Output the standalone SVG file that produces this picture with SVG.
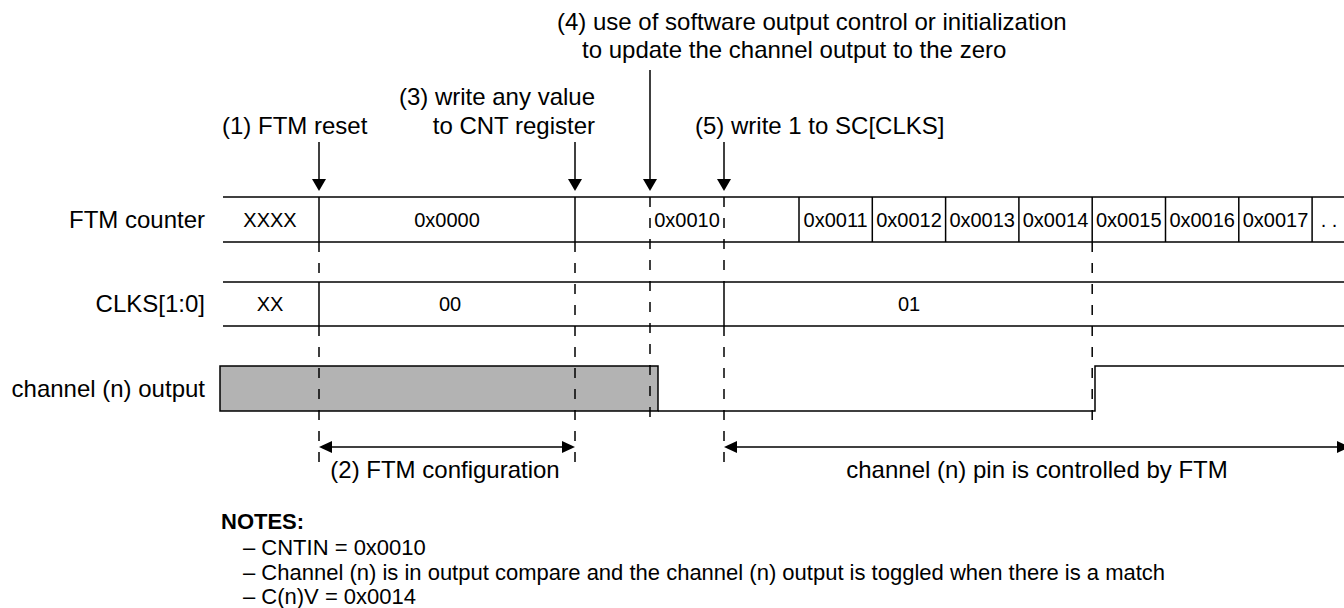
<svg xmlns="http://www.w3.org/2000/svg" width="1344" height="608" viewBox="0 0 1344 608">
<style>
text{font-family:"Liberation Sans",Arial,Helvetica,sans-serif;fill:#000}
.lbl{font-size:24px}
.val{font-size:20px;text-anchor:middle}
.note{font-size:22px}
.ln{stroke:#000;stroke-width:1.5;fill:none}
.dash{stroke:#000;stroke-width:1.5;fill:none;stroke-dasharray:10 11}
.head{fill:#000;stroke:none}
</style>
<rect width="1344" height="608" fill="#fff"/>

<g id="annotations">
<text class="lbl" x="557" y="30">(4) use of software output control or initialization</text>
<text class="lbl" x="582" y="58">to update the channel output to the zero</text>
<text class="lbl" x="595" y="105" text-anchor="end">(3) write any value</text>
<text class="lbl" x="595" y="134" text-anchor="end">to CNT register</text>
<text class="lbl" x="222" y="134">(1) FTM reset</text>
<text class="lbl" x="695" y="134">(5) write 1 to SC[CLKS]</text>
</g>

<g id="row-labels">
<text class="lbl" x="205" y="228" text-anchor="end">FTM counter</text>
<text class="lbl" x="205" y="312" text-anchor="end">CLKS[1:0]</text>
<text class="lbl" x="205" y="397" text-anchor="end">channel (n) output</text>
</g>

<g id="ftm-counter">
<line class="ln" x1="223" y1="197" x2="1344" y2="197"/>
<line class="ln" x1="223" y1="242" x2="1344" y2="242"/>
<line class="ln" x1="319" y1="197" x2="319" y2="242"/>
<line class="ln" x1="575" y1="197" x2="575" y2="242"/>
<line class="ln" x1="799" y1="197" x2="799" y2="242"/>
<line class="ln" x1="872.3" y1="197" x2="872.3" y2="242"/>
<line class="ln" x1="945.6" y1="197" x2="945.6" y2="242"/>
<line class="ln" x1="1018.9" y1="197" x2="1018.9" y2="242"/>
<line class="ln" x1="1092.2" y1="197" x2="1092.2" y2="242"/>
<line class="ln" x1="1165.5" y1="197" x2="1165.5" y2="242"/>
<line class="ln" x1="1238.8" y1="197" x2="1238.8" y2="242"/>
<line class="ln" x1="1312.1" y1="197" x2="1312.1" y2="242"/>
<text class="val" x="270" y="227">XXXX</text>
<text class="val" x="447" y="227">0x0000</text>
<text class="val" x="687" y="227">0x0010</text>
<text class="val" x="835.6" y="227">0x0011</text>
<text class="val" x="909" y="227">0x0012</text>
<text class="val" x="982.2" y="227">0x0013</text>
<text class="val" x="1055.5" y="227">0x0014</text>
<text class="val" x="1128.8" y="227">0x0015</text>
<text class="val" x="1202.2" y="227">0x0016</text>
<text class="val" x="1275.5" y="227">0x0017</text>
<text class="val" x="1329" y="227">. .</text>
</g>

<g id="clks">
<line class="ln" x1="223" y1="282" x2="1344" y2="282"/>
<line class="ln" x1="223" y1="326" x2="1344" y2="326"/>
<line class="ln" x1="319" y1="282" x2="319" y2="326"/>
<line class="ln" x1="724" y1="282" x2="724" y2="326"/>
<text class="val" x="270" y="311">XX</text>
<text class="val" x="450" y="311">00</text>
<text class="val" x="909" y="311">01</text>
</g>

<g id="channel-output">
<rect x="220" y="366" width="438" height="45" fill="#b3b3b3" stroke="#000" stroke-width="1.5"/>
<polyline class="ln" points="658,411 1095,411 1095,366 1344,366"/>
</g>

<g id="connectors">
<line class="ln" x1="319" y1="142" x2="319" y2="180"/>
<polygon class="head" points="312,179 326,179 319,191"/>
<line class="ln" x1="575" y1="142" x2="575" y2="180"/>
<polygon class="head" points="568,179 582,179 575,191"/>
<line class="ln" x1="650" y1="70" x2="650" y2="180"/>
<polygon class="head" points="643,179 657,179 650,191"/>
<line class="ln" x1="724" y1="142" x2="724" y2="180"/>
<polygon class="head" points="717,179 731,179 724,191"/>

<line class="dash" x1="319" y1="242" x2="319" y2="282"/>
<line class="dash" x1="319" y1="326" x2="319" y2="466"/>
<line class="dash" x1="575" y1="242" x2="575" y2="466"/>
<line class="dash" x1="650" y1="197" x2="650" y2="423"/>
<line class="dash" x1="724" y1="197" x2="724" y2="282"/>
<line class="dash" x1="724" y1="326" x2="724" y2="464"/>
<line class="dash" x1="1092.2" y1="242" x2="1092.2" y2="423"/>

<line class="ln" x1="330" y1="447" x2="564" y2="447"/>
<polygon class="head" points="319,447 332,441 332,453"/>
<polygon class="head" points="575,447 562,441 562,453"/>
<line class="ln" x1="735" y1="447" x2="1340" y2="447"/>
<polygon class="head" points="724,447 737,441 737,453"/>
<polygon class="head" points="1350,447 1337,441 1337,453"/>
</g>

<g id="span-labels">
<text class="lbl" x="445" y="478" text-anchor="middle">(2) FTM configuration</text>
<text class="lbl" x="1037" y="478" text-anchor="middle">channel (n) pin is controlled by FTM</text>
</g>

<g id="notes">
<text class="note" x="221" y="529" font-weight="bold">NOTES:</text>
<text class="note" x="243" y="555">– CNTIN = 0x0010</text>
<text class="note" x="243" y="580">– Channel (n) is in output compare and the channel (n) output is toggled when there is a match</text>
<text class="note" x="243" y="604">– C(n)V = 0x0014</text>
</g>
</svg>
